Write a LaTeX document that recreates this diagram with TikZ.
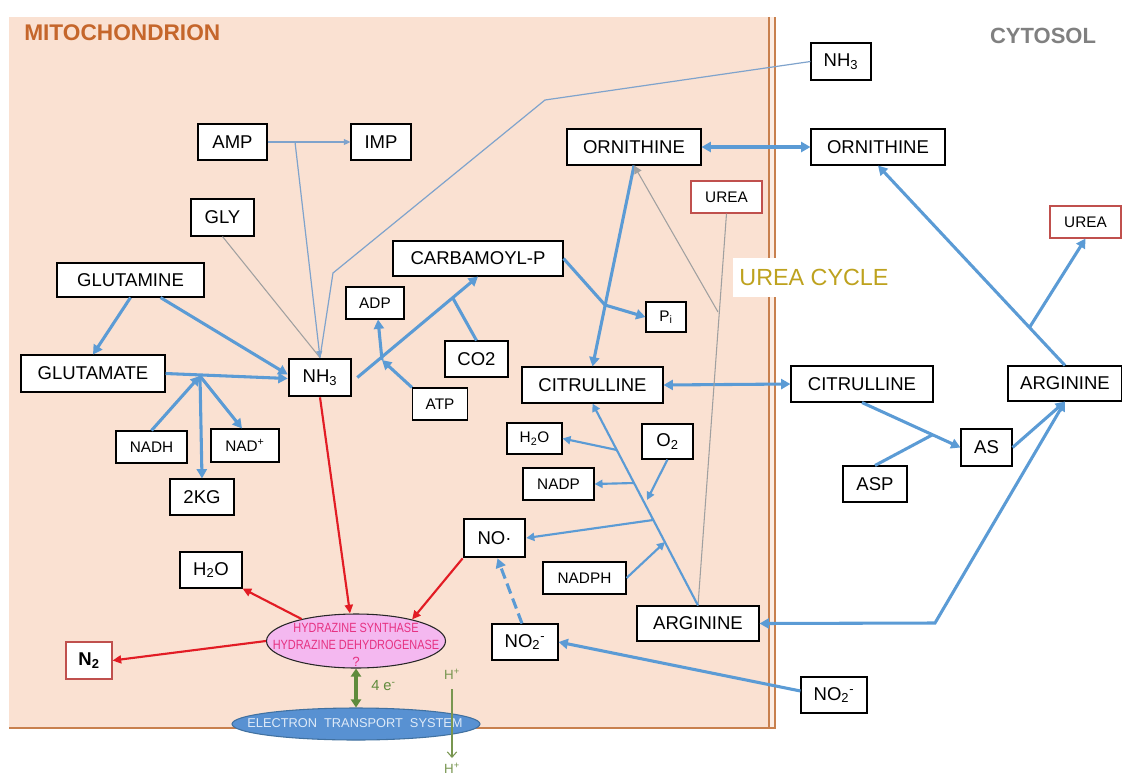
\documentclass[tikz,border=0pt]{standalone}
\usepackage{fontspec}
\setmainfont{Liberation Sans}
\usetikzlibrary{arrows.meta,shapes.geometric,calc}
\definecolor{mblue}{HTML}{5B9BD5}
\definecolor{tblue}{HTML}{7FA3CC}
\definecolor{lgrayc}{HTML}{A0A0A0}
\definecolor{ared}{RGB}{226,28,36}
\definecolor{boxred}{HTML}{C0504D}
\definecolor{mfill}{RGB}{250,225,210}
\definecolor{mborder}{RGB}{200,128,78}
\definecolor{mitotxt}{RGB}{197,102,43}
\definecolor{cytotxt}{RGB}{128,128,128}
\definecolor{ureatxt}{RGB}{190,162,30}
\definecolor{hydpink}{RGB}{244,184,240}
\definecolor{hydtxt}{RGB}{230,50,130}
\definecolor{etsblue}{RGB}{88,145,210}
\definecolor{etsborder}{RGB}{65,113,160}
\definecolor{etstxt}{RGB}{222,234,248}
\definecolor{dgreen}{RGB}{95,139,60}
\definecolor{hgreen}{RGB}{120,150,80}
\tikzset{
  bx/.style={draw=black, fill=white, line width=0.8pt, inner sep=0pt},
  thickbx/.style={bx, line width=2pt},
  redbx/.style={bx, draw=boxred},
  sz/.style 2 args={minimum width=#1*0.75pt, minimum height=#2*0.75pt},
  fbig/.style={font=\fontsize{13.9}{16}\selectfont},
  fsmall/.style={font=\fontsize{11.5}{14}\selectfont},
  lthick/.style={draw=mblue, line width=2.3pt},
  lmed/.style={draw=mblue, line width=1.6pt},
  lthin/.style={draw=tblue, line width=0.9pt},
  lgray/.style={draw=lgrayc, line width=0.8pt},
  lred/.style={draw=ared, line width=1.6pt},
  arT/.style={-{Triangle[length=7pt,width=7.5pt]}},
  arTT/.style={{Triangle[length=7pt,width=7.5pt]}-{Triangle[length=7pt,width=7.5pt]}},
  arM/.style={-{Triangle[length=6pt,width=6pt]}},
  arN/.style={-{Triangle[length=5pt,width=4.5pt]}},
  arR/.style={-{Triangle[length=6.5pt,width=6pt]}},
}
\begin{document}
\begin{tikzpicture}[x=0.75pt,y=-0.75pt]
\useasboundingbox (0,0) rectangle (1122,776);
% mitochondrion
\fill[mfill] (9,17) rectangle (775,728);
\fill[mfill!60!white] (769,17) rectangle (775,728);
\draw[mborder, line width=0.9pt] (769,17) -- (769,728);
\draw[mborder, line width=0.9pt] (775,17) -- (775,728) -- (9,728);
\node[anchor=west, inner sep=0pt, text=mitotxt, font=\fontsize{17}{20}\selectfont\bfseries] (mito) at (24,33) {MITOCHONDRION};
\node[inner sep=0pt, text=cytotxt, font=\fontsize{16.5}{20}\selectfont\bfseries] (cyto) at (1043,36) {CYTOSOL};
\node[fill=white, inner sep=0pt, sz={162}{39}, text=ureatxt, font=\fontsize{17.5}{20}\selectfont] (ucycle) at (814,277.5) {UREA CYCLE};

% nodes
\node[bx,fbig,sz={60}{37}] (nh3c) at (841,61.5) {NH\textsubscript{3}};
\node[bx,fbig,sz={69}{36}] (amp) at (232.5,142) {AMP};
\node[bx,fbig,sz={60}{36}] (imp) at (381,142) {IMP};
\node[bx,fbig,sz={134}{36}] (ornM) at (634,147) {ORNITHINE};
\node[bx,fbig,sz={134}{36}] (ornC) at (878,147) {ORNITHINE};
\node[redbx,fsmall,sz={71}{32}] (ureaM) at (726.5,197) {UREA};
\node[redbx,fsmall,sz={71}{32}] (ureaC) at (1085.5,222) {UREA};
\node[bx,fbig,sz={63}{37}] (gly) at (222.5,217.5) {GLY};
\node[bx,fbig,sz={147}{34}] (glutamine) at (130.5,280) {GLUTAMINE};
\node[bx,fbig,sz={170}{35}] (carb) at (478,258.5) {CARBAMOYL-P};
\node[bx,fsmall,sz={58}{32}] (adp) at (375,303) {ADP};
\node[bx,fsmall,sz={40}{30}] (pi) at (666,317) {P\textsubscript{i}};
\node[bx,fbig,sz={63}{36}] (co2) at (476.5,359) {CO2};
\node[thickbx,fbig,sz={62}{37}] (nh3M) at (320,377.5) {NH\textsubscript{3}};
\node[bx,fbig,sz={144}{37}] (glutamate) at (93,373.5) {GLUTAMATE};
\node[bx,fsmall,sz={55}{32}] (atp) at (440,404) {ATP};
\node[bx,fbig,sz={141}{36}] (citM) at (592.5,385) {CITRULLINE};
\node[bx,fbig,sz={142}{36}] (citC) at (862,384) {CITRULLINE};
\node[bx,fbig,sz={114}{35}] (argC) at (1065,383.5) {ARGININE};
\node[bx,fsmall,sz={71}{32}] (nadh) at (151.5,447) {NADH};
\node[bx,fsmall,sz={68}{33}] (nadplus) at (245,445.5) {NAD\textsuperscript{+}};
\node[bx,fbig,sz={64}{36}] (kg) at (202,497) {2KG};
\node[bx,fsmall,sz={55}{31}] (h2oR) at (534.5,438.5) {H\textsubscript{2}O};
\node[bx,fbig,sz={51}{35}] (o2) at (667.5,441.5) {O\textsubscript{2}};
\node[bx,fsmall,sz={71}{32}] (nadp) at (558.5,484) {NADP};
\node[bx,fbig,sz={51}{37}] (as) at (986.5,447.5) {AS};
\node[bx,fbig,sz={64}{36}] (asp) at (875,484) {ASP};
\node[thickbx,fbig,sz={61}{38}] (no) at (494.5,538) {NO·};
\node[bx,fsmall,sz={83}{32}] (nadph) at (584.5,578) {NADPH};
\node[bx,fbig,sz={62}{36}] (h2oL) at (211,570) {H\textsubscript{2}O};
\node[bx,fbig,sz={122}{35}] (argM) at (698,623.5) {ARGININE};
\node[bx,fbig,sz={66}{36}] (no2M) at (525,642) {NO\textsubscript{2}\textsuperscript{-}};
\node[redbx,fbig,sz={46}{37}] (n2) at (89,660.5) {\textbf{N\textsubscript{2}}};
\node[bx,fbig,sz={66}{36}] (no2C) at (834,695) {NO\textsubscript{2}\textsuperscript{-}};

% enzyme ellipses
\node[ellipse, draw=black!85, fill=hydpink, line width=0.8pt, sz={179}{54}, inner sep=0pt] (hyd) at (356,641) {};
\node[inner sep=0pt, align=center, text=hydtxt, font=\fontsize{10}{12.75}\selectfont] (hydlbl) at (356,645)
  {\scalebox{0.82}[1]{HYDRAZINE SYNTHASE}\\\scalebox{0.82}[1]{HYDRAZINE DEHYDROGENASE}\\?};
\node[ellipse, draw=etsborder, fill=etsblue, line width=0.8pt, sz={248}{32}, inner sep=0pt] (ets) at (356,724) {};
\node[inner sep=0pt, text=etstxt, font=\fontsize{9.6}{11}\selectfont] (etslbl) at (355,723) {ELECTRON\ \ TRANSPORT\ \ SYSTEM};

% AMP / GLY / NH3 inputs
\coordinate (jamp) at (295,142);
\coordinate (k1) at (545,100);
\coordinate (k2) at (333,273);
\draw[lthin,arN] (amp) -- (imp);
\draw[lgray] (gly.south) -- (nh3M.north);
\draw[lthin] (nh3c.west) -- (k1) -- (k2) -- (nh3M.north);
\draw[lthin,arN] (jamp) -- (nh3M.north);

% glutamine / glutamate
\coordinate (jg) at (200,376);
\draw[lthick,arT] (glutamine.south) -- (glutamate.north);
\draw[lthick,arT] ($(glutamine.south)+(30,0)$) -- ($(nh3M.west)+(0,-3)$);
\draw[lthick,arT] (glutamate.east) -- ($(nh3M.west)+(0,1)$);
\draw[lthick,arT] (nadh.north) -- (jg);
\draw[lthick,arT] (jg) -- ($(nadplus.north)+(-3,0)$);
\draw[lthick,arT] (jg) -- (kg.north);

% carbamoyl phosphate
\coordinate (cs) at ($(nh3M.east)+(5,0)$);
\coordinate (jc) at ($(cs)!0.79!(carb.south)$);
\coordinate (ja) at (382,360);
\coordinate (jp) at (605,305);
\draw[lthick,arT] (cs) -- (carb.south);
\draw[lthick] (co2.north) -- (jc);
\draw[lthick,arT] (atp.north west) -- (ja);
\draw[lthick,arT] (ja) -- ($(adp.south)+(3,0)$);
\draw[lthick,arT] (carb.east) -- (jp) -- (pi.west);

% ornithine / citrulline
\draw[lthick,arT] (ornM.south) -- (citM.north);
\draw[lthick,arTT] (ornM.east) -- (ornC.west);
\draw[lthick,arTT] (citM.east) -- (citC.west);

% arginase
\coordinate (ju) at (718,312);
\draw[lgray] (ureaM.south) -- (argM.north);
\draw[lgray,arM] (ju) -- (ornM.south);

% NO synthase
\coordinate (jh) at (617,450);
\coordinate (jn) at (634,483);
\coordinate (jo2) at (647,500);
\coordinate (jno) at (653,520);
\coordinate (jnh) at (665,542);
\draw[lmed,arM] (argM.north) -- (citM.south);
\draw[lmed,arM] (jh) -- (h2oR.east);
\draw[lmed,arM] (jn) -- (nadp.east);
\draw[lmed,arM] (o2.south) -- (jo2);
\draw[lmed,arM] (jno) -- (no.east);
\draw[lmed,arM] (nadph.east) -- (jnh);

% cytosol
\coordinate (jasp) at (933,434.5);
\coordinate (jarg) at (935,623);
\coordinate (jo) at ($(argC.north)!0.19!(ornC.south)$);
\draw[lthick,arT] (citC.south) -- (as.west);
\draw[lthick] (asp.north) -- (jasp);
\draw[lthick,arT] (as.east) -- (argC.south);
\draw[lthick,arTT] (argM.east) -- (jarg) -- (argC.south);
\draw[lthick,arT] (argC.north) -- (ornC.south);
\draw[lthick,arT] (jo) -- (ureaC.south);

% nitrite
\draw[lthick,arT] ($(no2C.west)+(0,-4)$) -- (no2M.east);
\draw[lthick,arT,dash pattern=on 8pt off 4pt] ($(no2M.north)+(-3,0)$) -- ($(no.south)+(3,0)$);

% anammox (red)
\draw[lred,arR] (nh3M.south) -- ($(hyd.north)+(-6,0)$);
\draw[lred,arR] (no.south west) -- (hyd.21);
\draw[lred,arR] (hyd.158) -- (h2oL.south east);
\draw[lred,arR] (hyd.west) -- (n2.east);

% electrons and protons
\draw[draw=dgreen, line width=2.3pt, {Triangle[length=6pt,width=7.5pt]}-{Triangle[length=6pt,width=7.5pt]}] (hyd.south) -- (ets.north);
\node[anchor=west, inner sep=0pt, text=dgreen, font=\fontsize{11}{13}\selectfont] (elab) at (371,686) {4 e\textsuperscript{-}};
\node[inner sep=0pt, text=hgreen, font=\fontsize{10}{12}\selectfont] (hp1) at (452,674) {H\textsuperscript{+}};
\node[anchor=north, inner sep=0pt, text=hgreen, font=\fontsize{10}{12}\selectfont] (hp2) at (452,763) {H\textsuperscript{+}};
\draw[draw=hgreen, line width=0.8pt, -{Straight Barb[length=4pt,width=7pt]}] ($(hp1.south)+(0,10)$) -- ($(hp2.north)+(0,-5)$);
\end{tikzpicture}
\end{document}
